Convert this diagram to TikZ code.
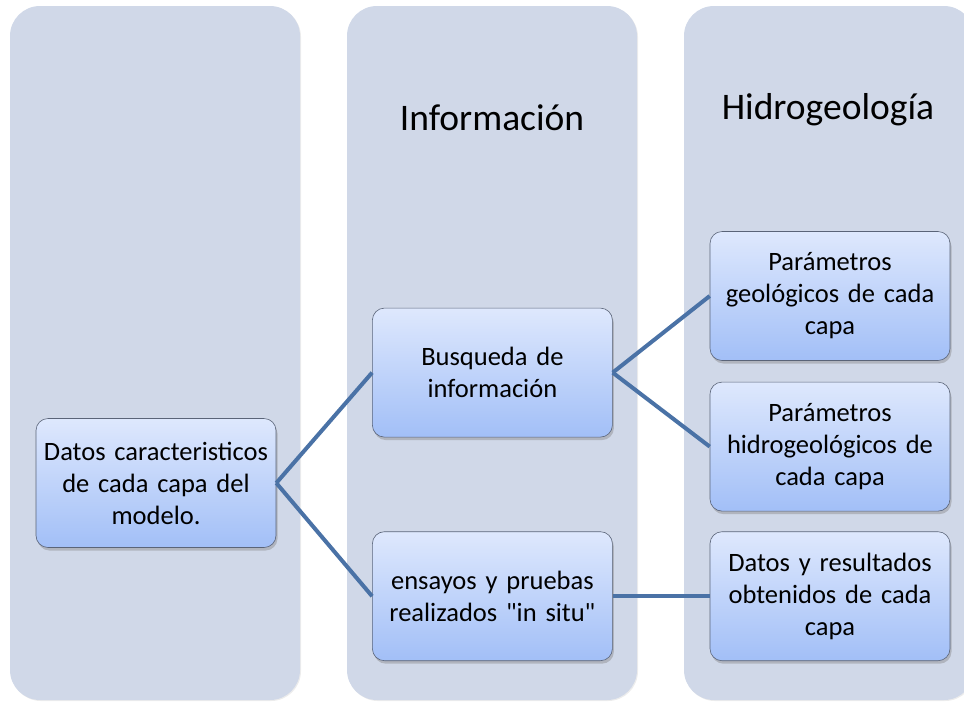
\documentclass[tikz,border=0pt]{standalone}
\usepackage{fontspec}
\setmainfont{Carlito}
\usepackage{tikz}
\usetikzlibrary{positioning,shadows}
\definecolor{lane}{HTML}{D0D8E8}
\definecolor{link}{HTML}{4A72A6}
\definecolor{boxtop}{HTML}{DEE8FD}
\definecolor{boxbot}{HTML}{A2BFF7}
\definecolor{boxline}{HTML}{5A6478}

\begin{document}
\begin{tikzpicture}[
  x=1pt,y=-1pt,
  lanebox/.style={fill=lane,rounded corners=30pt,minimum width=290pt,minimum height=694pt,
              drop shadow={opacity=0.15,shadow xshift=1pt,shadow yshift=-1pt}},
  item/.style={draw=boxline,line width=0.6pt,rounded corners=12pt,top color=boxtop,bottom color=boxbot,
              align=center,text width=236pt,minimum width=240pt,minimum height=129pt,inner sep=2pt,
              font=\fontsize{26.5}{32}\selectfont,
              drop shadow={opacity=0.4,shadow xshift=1.5pt,shadow yshift=-3pt}},
  title/.style={font=\fontsize{37.5}{42}\selectfont},
  link/.style={draw=link,line width=4pt}
]
\useasboundingbox (0,0) rectangle (964,705);
% columns
\node[lanebox] (lane1) at (155,353) {};
\node[lanebox] (lane2) at (492,353) {};
\node[lanebox] (lane3) at (829,353) {};
\node[title] (info) at (492,118) {Información};
\node[title] (hidro) at (828,110) {Hidrogeología};
% boxes
\node[item] (datos) at (156,483) {Datos caracteristicos\\de cada capa del\\modelo.};
\node[item] (geol) at (830,296) {Parámetros\\geológicos de cada\\capa};
\node[item,below=21pt of geol] (hidrog) {Parámetros\\hidrogeológicos de\\cada capa};
\node[item,below=20pt of hidrog] (result) {Datos y resultados\\obtenidos de cada\\capa};
\node[item,left=97pt of result] (ensayos) {ensayos y pruebas\\realizados \textquotedbl in situ\textquotedbl};
\node[item,above=94pt of ensayos] (busqueda) {Busqueda de\\información};
% links
\draw[link] (datos.east)--(busqueda.west);
\draw[link] (datos.east)--(ensayos.west);
\draw[link] (busqueda.east)--(geol.west);
\draw[link] (busqueda.east)--(hidrog.west);
\draw[link] (ensayos)--(result);
\end{tikzpicture}
\end{document}
